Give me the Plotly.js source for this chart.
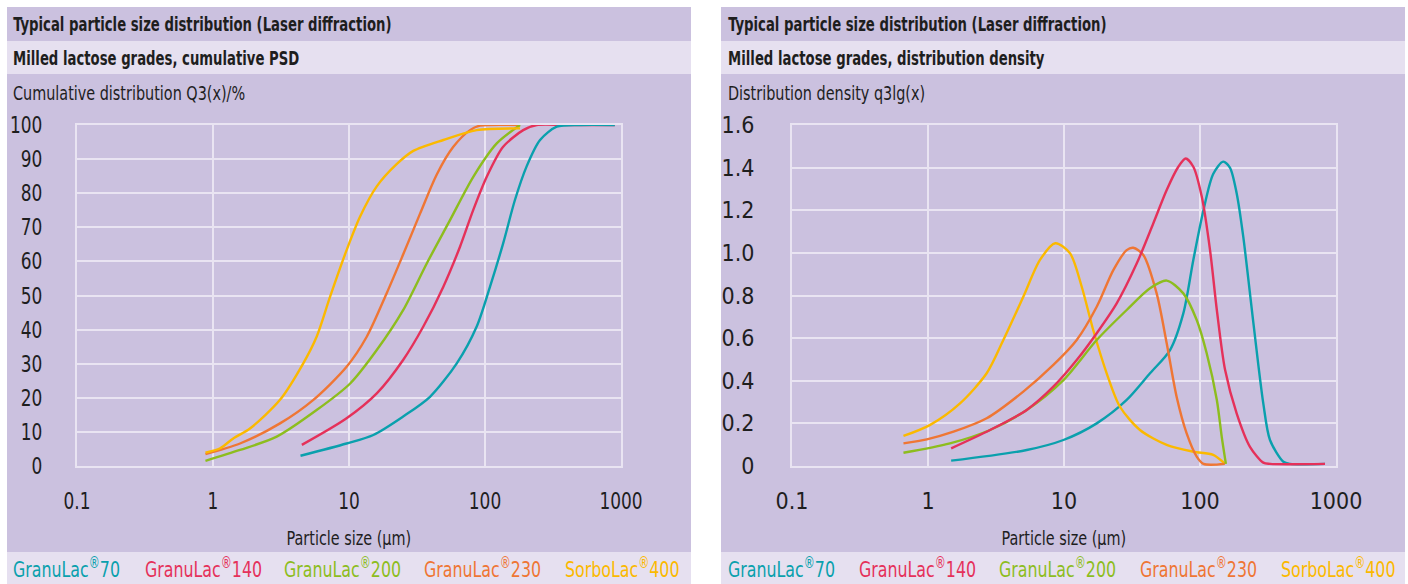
<!DOCTYPE html>
<html>
<head>
<meta charset="utf-8">
<script src="https://cdn.plot.ly/plotly-3.0.1.min.js"></script>
<style>
html,body{margin:0;padding:0;background:#fff;}
#chart{width:1408px;height:584px;}
</style>
</head>
<body>
<div id="chart"></div>
<script>
// ---- Data ----
const seriesNames = ["GranuLac<sup>®</sup>70", "GranuLac<sup>®</sup>140", "GranuLac<sup>®</sup>200", "GranuLac<sup>®</sup>230", "SorboLac<sup>®</sup>400"];
const seriesColors = ["#0aa0ad", "#e5315a", "#8dbd1e", "#ef7634", "#fbb900"];

// Cumulative PSD Q3(x) /% (x in µm)
const cumX70  = [4.4, 9.6, 15.1, 25, 39.4, 62, 86.9, 108.9, 136, 166, 202, 254, 337, 500, 900];
const cumY70  = [3, 6.6, 9.1, 14.5, 20.3, 30.1, 40.9, 52.6, 65.3, 78, 87.8, 95.6, 99.5, 100, 100];
const cumX140 = [4.5, 9.6, 16, 25, 35.2, 49.4, 65.5, 82, 103, 136, 191, 240, 400, 900];
const cumY140 = [6.2, 14, 21.3, 31.1, 40.9, 52.6, 64.3, 75.1, 84.8, 93.6, 98.5, 100, 100, 100];
const cumX200 = [0.88, 1.58, 2.94, 5.78, 10.2, 16, 25, 37.3, 55.3, 82, 122, 181];
const cumY200 = [1.5, 4.7, 8.6, 16.4, 24.2, 34, 45.7, 59.4, 72.1, 84.8, 94.6, 100];
const cumX230 = [0.88, 1.58, 3.11, 5.47, 9.6, 13.5, 18.9, 25, 33.3, 44.2, 58.5, 77.6, 91.9, 181];
const cumY230 = [3.5, 6.6, 12.5, 19.4, 29.1, 37.9, 50.6, 62.0, 74.0, 85.5, 93.6, 98.5, 99.8, 100];
const cumX400 = [0.88, 1.13, 1.41, 1.87, 3.11, 4.61, 5.78, 7.25, 9.6, 12.05, 16, 22.4, 29.7, 49.4, 86.9, 181];
const cumY400 = [3.9, 5.2, 8.1, 11, 19.4, 30.1, 37.9, 49.6, 63.3, 73.1, 82.0, 88.5, 92.4, 95.6, 98.5, 99];

// Distribution density q3lg(x)
const denX70  = [1.48, 5.32, 9.9, 17.4, 28.9, 42.9, 60.2, 75.4, 89.3, 106, 125, 148, 166, 186, 208, 247, 292, 327, 410, 460, 830];
const denY70  = [0.025, 0.075, 0.122, 0.2, 0.31, 0.435, 0.544, 0.716, 0.967, 1.2, 1.37, 1.428, 1.40, 1.28, 1.076, 0.67, 0.294, 0.122, 0.02, 0.01, 0.01];
const denX140 = [1.48, 2.86, 5.32, 8.35, 12.4, 17.4, 24.4, 34.3, 45.4, 56.9, 69.3, 78.5, 89.3, 103, 118.5, 133, 153, 186, 233, 292, 327, 830];
const denY140 = [0.083, 0.169, 0.263, 0.372, 0.497, 0.623, 0.763, 0.951, 1.139, 1.295, 1.404, 1.443, 1.404, 1.264, 1.013, 0.732, 0.45, 0.247, 0.09, 0.016, 0.01, 0.01];
const denX200 = [0.66, 1.45, 2.86, 5.32, 9.9, 17.4, 28.9, 42.9, 56.9, 75.4, 94.6, 112, 133, 144.5, 155];
const denY200 = [0.062, 0.106, 0.169, 0.263, 0.403, 0.591, 0.732, 0.834, 0.87, 0.81, 0.685, 0.529, 0.31, 0.137, 0.01];
const denX230 = [0.66, 0.98, 1.54, 2.7, 5.02, 8.35, 12.4, 17.4, 23.1, 28.9, 32.3, 38.3, 48, 56.9, 67.3, 79.8, 94.6, 106, 152];
const denY230 = [0.106, 0.125, 0.161, 0.224, 0.349, 0.474, 0.591, 0.747, 0.92, 1.013, 1.024, 0.99, 0.81, 0.576, 0.325, 0.153, 0.044, 0.01, 0.01];
const denX400 = [0.66, 1.03, 1.72, 2.7, 3.58, 5.02, 6.66, 8.63, 11.07, 13.5, 16.4, 20.6, 25.8, 36.2, 56.9, 89.3, 125, 153];
const denY400 = [0.141, 0.192, 0.294, 0.435, 0.591, 0.794, 0.967, 1.045, 0.998, 0.841, 0.638, 0.435, 0.278, 0.169, 0.099, 0.067, 0.052, 0.01];

// Tick labels
const xTickVals = [0.1, 1, 10, 100, 1000];
const xTickText = ["0.1", "1", "10", "100", "1000"];
const yCumTickVals = [0, 10, 20, 30, 40, 50, 60, 70, 80, 90, 100];
const yCumTickText = ["0", "10", "20", "30", "40", "50", "60", "70", "80", "90", "100"];
const yDenTickVals = [0, 0.2, 0.4, 0.6, 0.8, 1.0, 1.2, 1.4, 1.6];
const yDenTickText = ["0", "0.2", "0.4", "0.6", "0.8", "1.0", "1.2", "1.4", "1.6"];

// Texts
const titleText = "Typical particle size distribution (Laser diffraction)";
const subLeft = "Milled lactose grades, cumulative PSD";
const subRight = "Milled lactose grades, distribution density";
const yLabelLeft = "Cumulative distribution Q3(x)/%";
const yLabelRight = "Distribution density q3lg(x)";
const xLabel = "Particle size (µm)";

// ---- Layout helpers ----
const W = 1408, H = 584;
const px = v => v / W;
const py = v => 1 - v / H;
const FONT = "'DejaVu Sans Condensed', 'Liberation Sans Narrow', 'Arial Narrow', sans-serif";
const TXT = "#1e1e1e";
const BG = "#cbc1df";
const LIGHT = "#e6e0f0";
const GRID = "#e9e4f2";

const cumX = [cumX70, cumX140, cumX200, cumX230, cumX400];
const cumY = [cumY70, cumY140, cumY200, cumY230, cumY400];
const denX = [denX70, denX140, denX200, denX230, denX400];
const denY = [denY70, denY140, denY200, denY230, denY400];

const traces = [];
const order = [3, 2, 4, 1, 0];
order.forEach(i => {
  traces.push({x: cumX[i], y: cumY[i], xaxis: "x", yaxis: "y", mode: "lines",
    line: {color: seriesColors[i], width: 2.4, shape: "spline", smoothing: 0.8},
    name: seriesNames[i], showlegend: false, hoverinfo: "skip"});
});
const order2 = [0, 4, 3, 2, 1];
order2.forEach(i => {
  traces.push({x: denX[i], y: denY[i], xaxis: "x2", yaxis: "y2", mode: "lines",
    line: {color: seriesColors[i], width: 2.4, shape: "spline", smoothing: 0.8},
    name: seriesNames[i], showlegend: false, hoverinfo: "skip"});
});

function xax(dom) {
  return {type: "log", range: [-1, 3], domain: dom, tickvals: xTickVals, ticktext: xTickText,
    showgrid: true, gridcolor: GRID, gridwidth: 2, zeroline: false,
    showline: true, linecolor: GRID, linewidth: 2, mirror: true, ticks: "",
    ticklabelstandoff: 13, tickfont: {family: FONT, size: 23, color: TXT}, fixedrange: true};
}
function yax(dom, vals, text, anchor, standoff) {
  return {range: [0, vals[vals.length - 1]], domain: dom, tickvals: vals, ticktext: text, anchor: anchor,
    showgrid: true, gridcolor: GRID, gridwidth: 2, zeroline: false,
    showline: true, linecolor: GRID, linewidth: 2, mirror: true, ticks: "",
    ticklabelstandoff: standoff, tickfont: {family: FONT, size: 23, color: TXT}, fixedrange: true};
}

const yDom = [py(466), py(125)];
const shapes = [];
const annotations = [];
const panels = [{x0: 7, x1: 691, sub: subLeft, yl: yLabelLeft, tx: 11, plotC: 349},
                {x0: 721, x1: 1405, sub: subRight, yl: yLabelRight, tx: 726, plotC: 1064}];
const legendStarts = [[14, 146, 285, 425, 566], [729, 860, 1000, 1141, 1282]];
panels.forEach((p, k) => {
  shapes.push({type: "rect", xref: "paper", yref: "paper", x0: px(p.x0), x1: px(p.x1), y0: py(584), y1: py(7),
    fillcolor: BG, line: {width: 0}, layer: "below"});
  shapes.push({type: "rect", xref: "paper", yref: "paper", x0: px(p.x0), x1: px(p.x1), y0: py(74), y1: py(41),
    fillcolor: LIGHT, line: {width: 0}, layer: "below"});
  shapes.push({type: "rect", xref: "paper", yref: "paper", x0: px(p.x0), x1: px(p.x1), y0: py(584), y1: py(552),
    fillcolor: LIGHT, line: {width: 0}, layer: "below"});
  annotations.push({xref: "paper", yref: "paper", x: px(p.tx), y: py(24), xanchor: "left", yanchor: "middle",
    text: "<b>" + titleText + "</b>", showarrow: false, font: {family: FONT, size: 19, color: TXT}});
  annotations.push({xref: "paper", yref: "paper", x: px(p.tx), y: py(58), xanchor: "left", yanchor: "middle",
    text: "<b>" + p.sub + "</b>", showarrow: false, font: {family: FONT, size: 19, color: TXT}});
  annotations.push({xref: "paper", yref: "paper", x: px(p.tx), y: py(93), xanchor: "left", yanchor: "middle",
    text: p.yl, showarrow: false, font: {family: FONT, size: 20, color: TXT}});
  annotations.push({xref: "paper", yref: "paper", x: px(p.plotC), y: py(538), xanchor: "center", yanchor: "middle",
    text: xLabel, showarrow: false, font: {family: FONT, size: 20, color: TXT}});
  seriesNames.forEach((n, i) => {
    annotations.push({xref: "paper", yref: "paper", x: px(legendStarts[k][i] - 3), y: py(568), xanchor: "left", yanchor: "middle",
      text: n, showarrow: false, font: {family: FONT, size: 22, color: seriesColors[i]}});
  });
});

const layout = {
  width: W, height: H, margin: {l: 0, r: 0, t: 0, b: 0},
  paper_bgcolor: "#ffffff", plot_bgcolor: "rgba(0,0,0,0)",
  showlegend: false,
  xaxis: xax([px(77), px(621)]),
  yaxis: yax(yDom, yCumTickVals, yCumTickText, "x", 28),
  xaxis2: Object.assign(xax([px(792), px(1336)]), {anchor: "y2"}),
  yaxis2: yax(yDom, yDenTickVals, yDenTickText, "x2", 31),
  shapes: shapes,
  annotations: annotations
};

// Horizontally condense text (reference uses a condensed typeface)
function condense(el, s, mode) {
  const bb = el.getBBox();
  if (!bb.width) return;
  let ax = bb.x;
  if (mode === "end") ax = bb.x + bb.width;
  else if (mode === "middle") ax = bb.x + bb.width / 2;
  const prev = el.getAttribute("transform") || "";
  el.setAttribute("transform", (prev + " translate(" + ax + ",0) scale(" + s + ",1) translate(" + (-ax) + ",0)").trim());
}

Plotly.newPlot("chart", traces, layout, {displayModeBar: false, staticPlot: true}).then(gd => {
  gd.querySelectorAll(".ytick text").forEach(t => condense(t, 0.82, "end"));
  gd.querySelectorAll(".xtick text").forEach(t => condense(t, 0.82, "middle"));
  gd.querySelectorAll(".annotation-text").forEach(t => {
    const txt = t.textContent;
    const centered = txt.indexOf("Particle size") === 0;
    const bold = txt.indexOf("Typical") === 0 || txt.indexOf("Milled") === 0;
    condense(t, bold ? 0.775 : 0.8, centered ? "middle" : "start");
  });
});
</script>
</body>
</html>
